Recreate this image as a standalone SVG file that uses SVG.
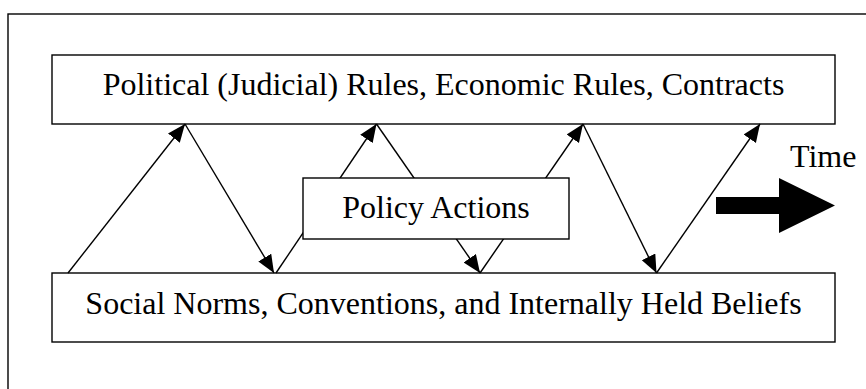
<svg xmlns="http://www.w3.org/2000/svg" width="866" height="389" viewBox="0 0 866 389">
  <style>
    .box { fill: #ffffff; stroke: #000000; stroke-width: 1.4; }
    .lbl { font-family: "Liberation Serif", "Times New Roman", serif; font-size: 32px; fill: #000000; }
    .mid { text-anchor: middle; }
    .conn { stroke: #000000; stroke-width: 1.4; fill: none; marker-end: url(#ah); }
  </style>
  <defs>
    <marker id="ah" markerUnits="userSpaceOnUse" markerWidth="20" markerHeight="17" refX="18" refY="7.5" orient="auto">
      <path d="M0,0 L18,7.5 L0,15 Z" fill="#000000"/>
    </marker>
  </defs>
  <rect x="0" y="0" width="866" height="389" fill="#ffffff"/>
  <g id="frame">
    <rect x="8" y="14" width="900" height="420" fill="none" stroke="#000000" stroke-width="1.4"/>
  </g>
  <g id="node-rules">
    <rect class="box" x="52" y="55" width="783" height="69"/>
    <text class="lbl mid" x="443.5" y="95">Political (Judicial) Rules, Economic Rules, Contracts</text>
  </g>
  <g id="node-norms">
    <rect class="box" x="52" y="273" width="783" height="69"/>
    <text class="lbl mid" x="443.5" y="314">Social Norms, Conventions, and Internally Held Beliefs</text>
  </g>
  <g id="connectors">
    <line class="conn" x1="68" y1="273" x2="185" y2="124"/>
    <line class="conn" x1="185" y1="124" x2="274" y2="273"/>
    <line class="conn" x1="276" y1="273" x2="376.5" y2="124"/>
    <line class="conn" x1="376.5" y1="124" x2="480" y2="273"/>
    <line class="conn" x1="480" y1="273" x2="583" y2="124"/>
    <line class="conn" x1="583" y1="124" x2="656.5" y2="273"/>
    <line class="conn" x1="656.5" y1="273" x2="760" y2="124"/>
  </g>
  <g id="node-policy">
    <rect class="box" x="303" y="178" width="266" height="61"/>
    <text class="lbl mid" x="436" y="218">Policy Actions</text>
  </g>
  <g id="time">
    <text class="lbl" x="790" y="167">Time</text>
    <polygon points="716,197 779,197 779,178 835,205.5 779,233 779,214 716,214" fill="#000000"/>
  </g>
</svg>
